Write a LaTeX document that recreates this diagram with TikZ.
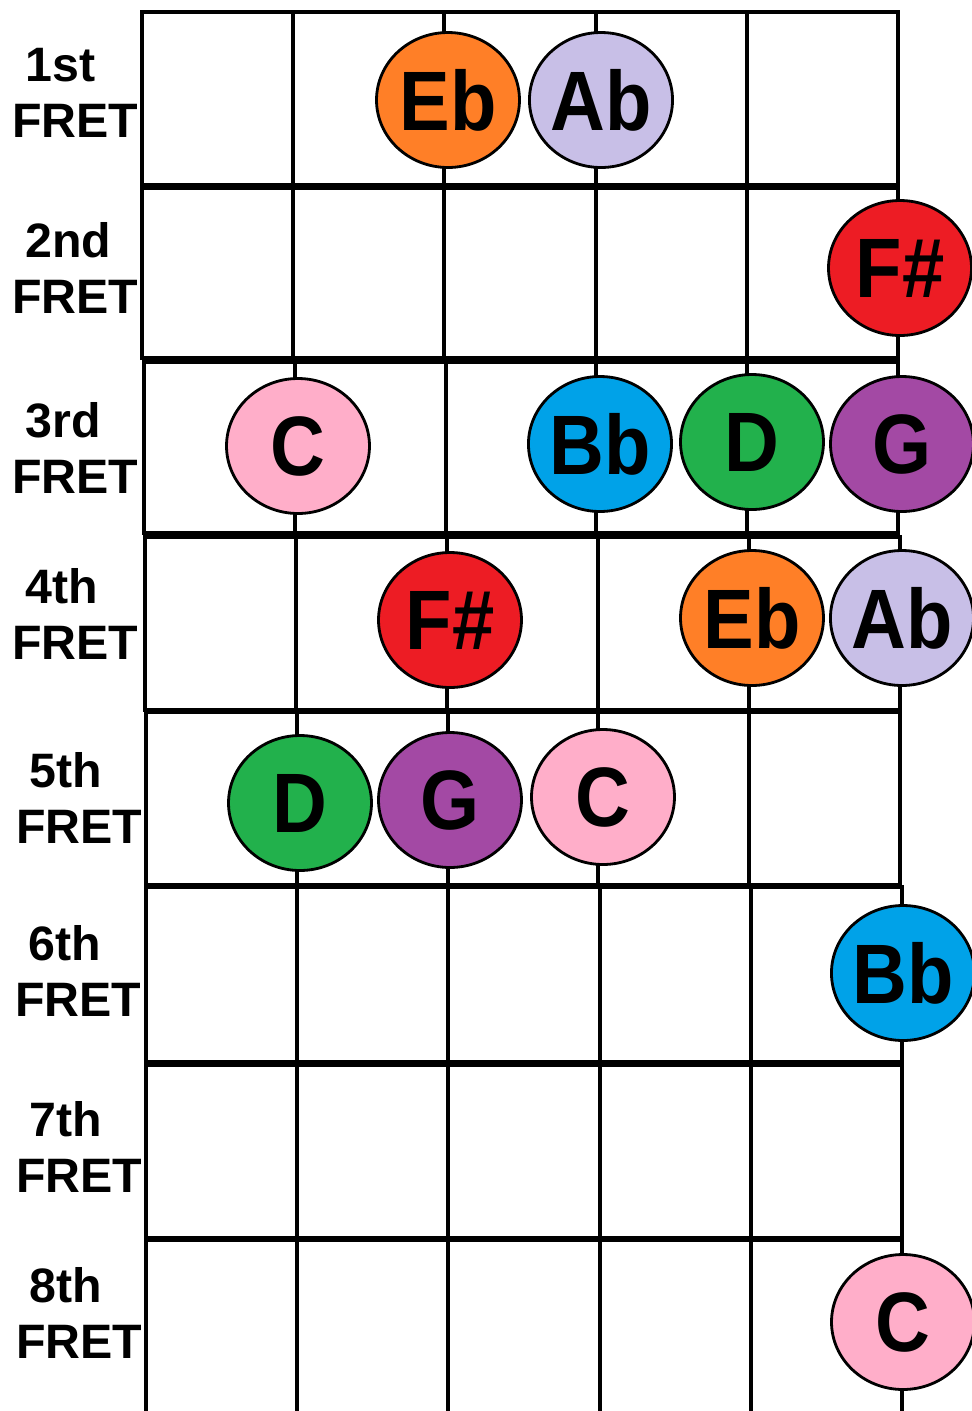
\documentclass[tikz,border=0pt]{standalone}
\usepackage{fontspec}
\setmainfont{Liberation Sans}
\newfontfamily\notefont[FakeStretch=0.9]{Liberation Sans}
\usetikzlibrary{positioning,shapes.geometric}
\definecolor{noteorange}{HTML}{FF7F27}
\definecolor{notelilac}{HTML}{C8BFE7}
\definecolor{notered}{HTML}{ED1C24}
\definecolor{notepink}{HTML}{FFAEC9}
\definecolor{noteblue}{HTML}{00A2E8}
\definecolor{notegreen}{HTML}{22B14C}
\definecolor{notepurple}{HTML}{A349A4}

\begin{document}
\begin{tikzpicture}[x=0.02cm,y=-0.02cm,
  gridline/.style={line width=2.2pt,line cap=rect},
  fretlab/.style={anchor=north west,inner sep=0pt,align=left,font=\bfseries\fontsize{27.5}{31.7}\selectfont},
  note/.style={ellipse,draw=black,line width=1.6pt,inner sep=0pt,minimum width=2.86cm,minimum height=2.7cm,font=\notefont\bfseries\fontsize{48}{48}\selectfont}]
\fill[white] (0,0) rectangle (972,1411);
\useasboundingbox (0,0) rectangle (972,1411);
\clip (0,0) rectangle (972,1411);

% fret rows
\foreach \top/\bot/\xl/\xr in {12/185/142/898, 188/358/142/898, 362/533/144/898, 537/710/145/900, 712/885/146/900, 887/1062/146/902, 1065/1238/146/902, 1240/1425/146/902}
{
  \draw[gridline] (\xl,\top) rectangle (\xr,\bot);
  \foreach \c in {1,...,4}
    \draw[gridline] ({\xl+\c*(\xr-\xl)/5},\top) -- ({\xl+\c*(\xr-\xl)/5},\bot);
}

% fret labels
\foreach \n/\x/\y/\lab in {1/12/48/1st, 2/12/222/2nd, 3/12/402/3rd, 4/12/568/4th, 5/16/752/5th, 6/15/925/6th, 7/16/1101/7th, 8/16/1267/8th}
  \node[fretlab] (fret\n) at (\x,\y) {\hspace*{7.5pt}\lab\\FRET};

% notes
\node[note,fill=noteorange] (f1Eb) at (448,100) {Eb};
\node[note,fill=notelilac] (f1Ab) at (601,100) {Ab};
\node[note,fill=notered] (f2Fs) at (900,268) {F\#};
\node[note,fill=notepink] (f3C) at (298,446) {C};
\node[note,fill=noteblue] (f3Bb) at (600,444) {Bb};
\node[note,fill=notegreen] (f3D) at (752,442) {D};
\node[note,fill=notepurple] (f3G) at (902,444) {G};
\node[note,fill=notered] (f4Fs) at (450,620) {F\#};
\node[note,fill=noteorange] (f4Eb) at (752,618) {Eb};
\node[note,fill=notelilac] (f4Ab) at (902,618) {Ab};
\node[note,fill=notegreen] (f5D) at (300,803) {D};
\node[note,fill=notepurple] (f5G) at (450,800) {G};
\node[note,fill=notepink] (f5C) at (603,797) {C};
\node[note,fill=noteblue] (f6Bb) at (903,973) {Bb};
\node[note,fill=notepink] (f8C) at (903,1322) {C};

\end{tikzpicture}
\end{document}
